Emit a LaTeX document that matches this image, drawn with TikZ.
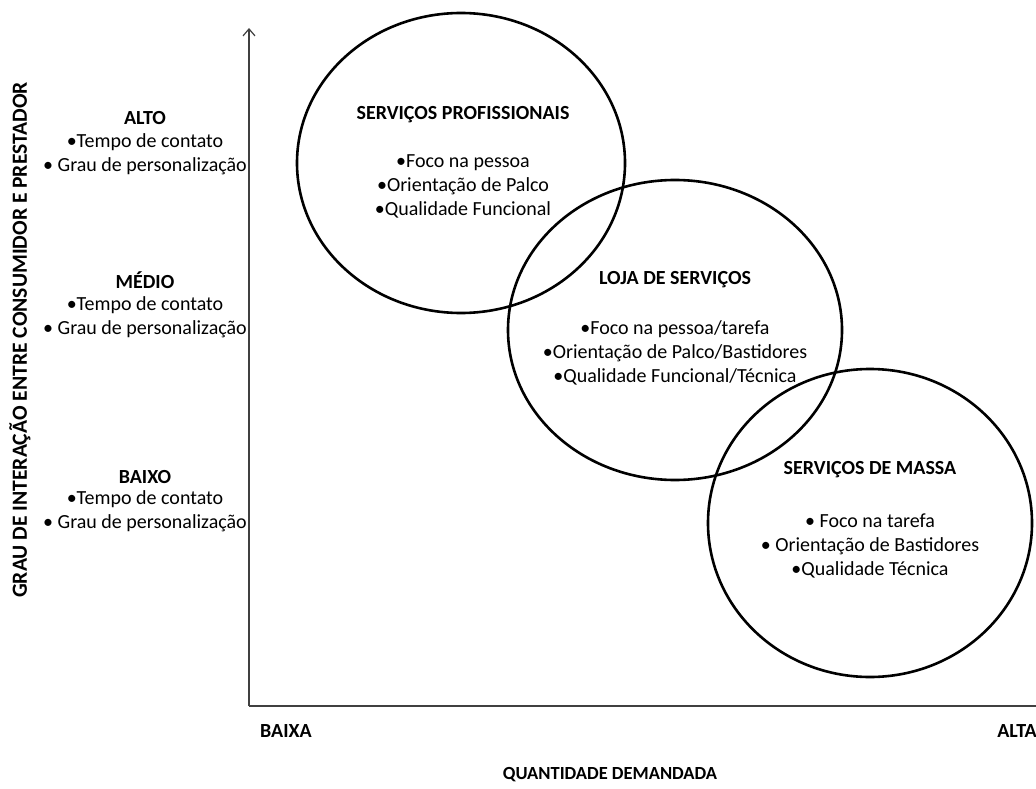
\documentclass[tikz,border=0pt]{standalone}
\usepackage{fontspec}
\setmainfont{Carlito}
\usetikzlibrary{arrows.meta}
\begin{document}
\begin{tikzpicture}[x=1pt,y=-1pt,
	rotulo/.style={font=\fontsize{20}{23}\selectfont\bfseries, inner sep=0pt},
	itens/.style={align=center, font=\fontsize{20}{24}\selectfont, inner sep=0pt},
	circulo/.style={draw=black, line width=2.6pt}]
	\useasboundingbox (0,0) rectangle (1036,789);
	% eixos
	\coordinate (origem) at (249,706);
	\coordinate (topo) at (249,28);
	\coordinate (fim) at (1036,706);
	\draw [-{Straight Barb[length=7pt,width=12pt]}, line width=1.2pt, draw=black!75] (origem) -- (topo);
	\draw [line width=1.2pt, draw=black!75] (origem) -- (fim);
	% circulos
	\draw [circulo] (461,163) ellipse [x radius=164pt, y radius=150pt];
	\draw [circulo] (675,330) ellipse [x radius=167pt, y radius=150pt];
	\draw [circulo] (870,523) ellipse [x radius=162pt, y radius=154pt];
	% eixo vertical
	\node [rotulo, rotate=90, font=\fontsize{21.6}{24}\selectfont\bfseries] (grau) at (20,340) {GRAU DE INTERAÇÃO ENTRE CONSUMIDOR E PRESTADOR};
	\node [rotulo] (alto) at (145,118) {ALTO};
	\node [itens] (altoitens) at (145,154) {•Tempo de contato\\• Grau de personalização};
	\node [rotulo] (medio) at (145,280) {MÉDIO};
	\node [itens] (medioitens) at (145,317) {•Tempo de contato\\• Grau de personalização};
	\node [rotulo] (baixo) at (145,477) {BAIXO};
	\node [itens] (baixoitens) at (145,511) {•Tempo de contato\\• Grau de personalização};
	% eixo horizontal
	\node [rotulo] (baixa) at (286,731) {BAIXA};
	\node [rotulo, anchor=east] (alta) at (1037,731) {ALTA};
	\node [rotulo, font=\fontsize{18.5}{21}\selectfont\bfseries] (quantidade) at (610,775) {QUANTIDADE DEMANDADA};
	% textos dos circulos
	\node [rotulo] (profissionais) at (463,115) {SERVIÇOS PROFISSIONAIS};
	\node [itens] (profitens) at (463,186) {•Foco na pessoa\\•Orientação de Palco\\•Qualidade Funcional};
	\node [rotulo] (loja) at (675,280) {LOJA DE SERVIÇOS};
	\node [itens] (lojaitens) at (675,353) {•Foco na pessoa/tarefa\\•Orientação de Palco/Bastidores\\•Qualidade Funcional/Técnica};
	\node [rotulo] (massa) at (870,470) {SERVIÇOS DE MASSA};
	\node [itens] (massaitens) at (870,546) {• Foco na tarefa\\• Orientação de Bastidores\\•Qualidade Técnica};
\end{tikzpicture}
\end{document}
